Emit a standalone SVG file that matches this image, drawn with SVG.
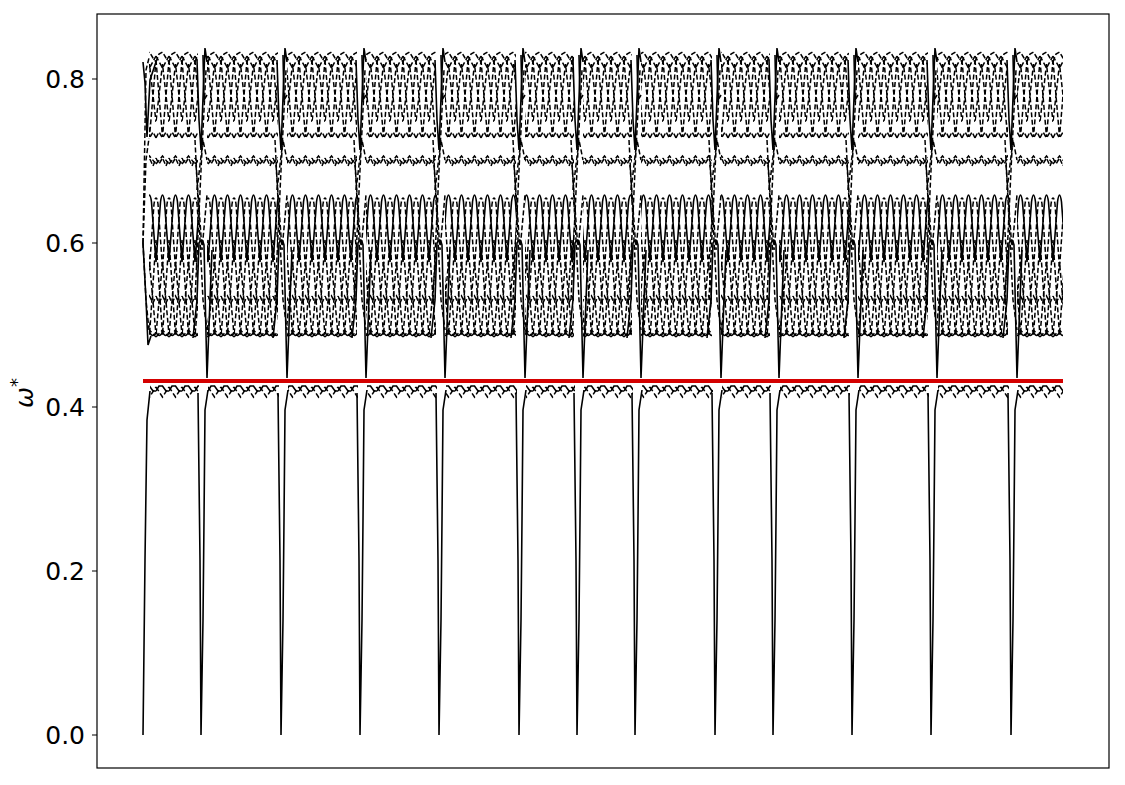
<svg xmlns="http://www.w3.org/2000/svg" xmlns:xlink="http://www.w3.org/1999/xlink" width="1125" height="785" viewBox="0 0 1125 785">
<style>
.d{fill:none;stroke:#000;stroke-width:1.5;stroke-dasharray:5 2.5}
.s{fill:none;stroke:#000;stroke-width:1.6}
.tk{font-family:"DejaVu Sans",sans-serif;font-size:25px;fill:#000;text-anchor:end}
</style>
<defs>
<pattern id="up" patternUnits="userSpaceOnUse" x="0" y="0" width="13" height="785">
<path class="d" d="M0,62 L3,54 L6.5,52 L10,58 L13,62"/>
<path class="d" d="M0,56 L6.5,68 L13,56"/>
<path class="d" d="M0,60 L6.5,137 L13,60"/>
<path class="d" d="M-6.5,64 L0,122 L6.5,64 L13,122"/>
<path class="d" d="M0,138 L3,132 L6.5,138 L10,132 L13,138"/>
<path class="d" d="M0,158 L3,164 L6.5,158 L10,166 L13,158"/>
<path class="d" d="M0,164 L6.5,156 L13,164"/>
<path class="s" d="M0,262 L4.5,202 Q6.5,188 8.5,202 L13,262"/>
<path class="d" d="M-6.5,268 L-2,204 Q0,192 2,204 L6.5,268 L11,204 Q13,192 15,204"/>
<path class="d" d="M0,240 L6.5,335 L13,240"/>
<path class="d" d="M-6.5,262 L0,335 L6.5,262 L13,335"/>
<path class="d" d="M0,296 L3,303 L6.5,296 L10,303 L13,296"/>
<path class="s" d="M0,332 Q3.2,339 6.5,332 Q9.8,339 13,332"/>
<path class="d" d="M0,337 L6.5,330 L13,337"/>
</pattern>
<pattern id="lo" patternUnits="userSpaceOnUse" x="0" y="0" width="13" height="785">
<path class="d" d="M0,387 L6.5,397 L13,387"/>
<path class="s" d="M0,391 L3,386 L6.5,386 L10,391 L13,391" stroke-width="1.2"/>
</pattern>
<g id="sp">
<path class="s" d="M-3,393 L-1,560 L0,735 L2,620 L3,520 L4,410 L7,390"/>
<path class="s" d="M-8,338 L-4,300 L-2,243 Q1,236 3,245 L6,378 L9,300 L11,250"/>
<path class="s" d="M-4,60 L-2,120 L0,150 L3,72 L4,48 L6,62"/>
<path class="d" d="M-6,140 L2,300 L6,330"/>
<path class="d" d="M-6,300 L0,170 L5,70"/>
<path class="d" d="M-5,165 L1,250 L6,195"/>
<path class="d" d="M-4,190 L2,140 L6,160"/>
<path class="s" d="M2,55 L3,100 L6,95"/>
</g>
</defs>
<rect width="1125" height="785" fill="#fff"/>
<g id="axes">
<rect x="97" y="14" width="1012" height="754" fill="none" stroke="#000" stroke-width="1.2"/>
<path d="M92,735 H97 M92,571 H97 M92,407 H97 M92,243 H97 M92,79 H97" stroke="#000" stroke-width="1.2"/>
<text class="tk" x="85" y="744">0.0</text>
<text class="tk" x="85" y="580">0.2</text>
<text class="tk" x="85" y="416">0.4</text>
<text class="tk" x="85" y="252">0.6</text>
<text class="tk" x="85" y="88">0.8</text>
<text transform="translate(33,393) rotate(-90)" font-family="DejaVu Sans,sans-serif" font-size="25" font-style="italic" text-anchor="middle">ω<tspan font-size="18" dy="-10" font-style="normal">*</tspan></text>
</g>
<g id="bands">
<rect x="149" y="48" width="49" height="300" fill="url(#up)"/>
<rect x="207" y="48" width="71" height="300" fill="url(#up)"/>
<rect x="287" y="48" width="70" height="300" fill="url(#up)"/>
<rect x="366" y="48" width="70" height="300" fill="url(#up)"/>
<rect x="445" y="48" width="71" height="300" fill="url(#up)"/>
<rect x="525" y="48" width="49" height="300" fill="url(#up)"/>
<rect x="583" y="48" width="49" height="300" fill="url(#up)"/>
<rect x="641" y="48" width="71" height="300" fill="url(#up)"/>
<rect x="721" y="48" width="49" height="300" fill="url(#up)"/>
<rect x="779" y="48" width="70" height="300" fill="url(#up)"/>
<rect x="858" y="48" width="70" height="300" fill="url(#up)"/>
<rect x="937" y="48" width="71" height="300" fill="url(#up)"/>
<rect x="1017" y="48" width="46" height="300" fill="url(#up)"/>
<rect x="150" y="383" width="49" height="17" fill="url(#lo)"/>
<rect x="208" y="383" width="71" height="17" fill="url(#lo)"/>
<rect x="288" y="383" width="70" height="17" fill="url(#lo)"/>
<rect x="367" y="383" width="70" height="17" fill="url(#lo)"/>
<rect x="446" y="383" width="71" height="17" fill="url(#lo)"/>
<rect x="526" y="383" width="49" height="17" fill="url(#lo)"/>
<rect x="584" y="383" width="49" height="17" fill="url(#lo)"/>
<rect x="642" y="383" width="71" height="17" fill="url(#lo)"/>
<rect x="722" y="383" width="49" height="17" fill="url(#lo)"/>
<rect x="780" y="383" width="70" height="17" fill="url(#lo)"/>
<rect x="859" y="383" width="70" height="17" fill="url(#lo)"/>
<rect x="938" y="383" width="71" height="17" fill="url(#lo)"/>
<rect x="1018" y="383" width="45" height="17" fill="url(#lo)"/>
</g>
<g id="transitions">
<path class="s" d="M143,735 L145,560 L147,420 L150,391"/>
<path class="s" d="M143,243 L146,300 L148,345 L151,336"/>
<path class="s" d="M143,62 L145,83 L147,137 L150,80 L156,62"/>
<path class="d" d="M143,243 L146,160 L149,138"/>
<path class="d" d="M143,243 L146,70 L149,58"/>
<path class="d" d="M143,243 L146,300 L149,330"/>
<use xlink:href="#sp" x="201"/>
<use xlink:href="#sp" x="281"/>
<use xlink:href="#sp" x="360"/>
<use xlink:href="#sp" x="439"/>
<use xlink:href="#sp" x="519"/>
<use xlink:href="#sp" x="577"/>
<use xlink:href="#sp" x="635"/>
<use xlink:href="#sp" x="715"/>
<use xlink:href="#sp" x="773"/>
<use xlink:href="#sp" x="852"/>
<use xlink:href="#sp" x="931"/>
<use xlink:href="#sp" x="1011"/>
</g>
<path id="threshold" d="M143,381 H1063" stroke="#d40000" stroke-width="4"/>
</svg>
